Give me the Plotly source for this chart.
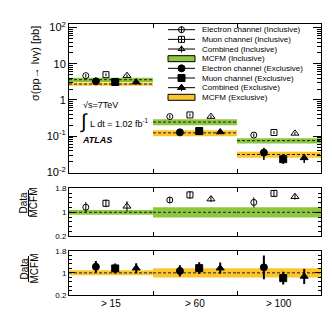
import plotly.graph_objects as go

# ---------------- data ----------------
CATS = ["> 15", "> 60", "> 100"]

# cross sections [pb]
E_INCL = [4.7, 0.347, 0.107]
MU_INCL = [5.0, 0.385, 0.126]
COMB_INCL = [4.7, 0.347, 0.119]
E_EXCL = [3.27, 0.127, 0.035]
MU_EXCL = [3.13, 0.138, 0.023]
COMB_EXCL = [3.1, 0.13, 0.025]
E_INCL_ERR = [0.5, 0.04, 0.012]
MU_INCL_ERR = [0.45, 0.035, 0.012]
COMB_INCL_ERR = [0.4, 0.03, 0.01]
E_EXCL_ERR = [0.35, 0.02, 0.013]
MU_EXCL_ERR = [0.3, 0.015, 0.006]
COMB_EXCL_ERR = [0.3, 0.015, 0.007]

MCFM_INCL = [3.63, 0.245, 0.075]
MCFM_EXCL = [2.75, 0.123, 0.031]
MCFM_INCL_REL = [0.13, 0.19, 0.17]
MCFM_EXCL_REL = [0.10, 0.19, 0.19]

# Data / MCFM ratios
R_E_INCL = [1.17, 1.41, 1.33]
R_MU_INCL = [1.30, 1.58, 1.63]
R_COMB_INCL = [1.20, 1.44, 1.52]
R_E_INCL_ERR = [0.17, 0.10, 0.17]
R_MU_INCL_ERR = [0.13, 0.13, 0.11]
R_COMB_INCL_ERR = [0.17, 0.10, 0.10]

R_E_EXCL = [1.22, 1.07, 1.20]
R_MU_EXCL = [1.16, 1.17, 0.81]
R_COMB_EXCL = [1.17, 1.17, 0.87]
R_E_EXCL_ERR = [0.21, 0.20, 0.43]
R_MU_EXCL_ERR = [0.18, 0.21, 0.23]
R_COMB_EXCL_ERR = [0.18, 0.20, 0.27]

R_BAND_INCL = [0.08, 0.17, 0.17]
R_BAND_EXCL = [0.09, 0.17, 0.17]

# ---------------- styling / layout helpers ----------------
FONT = "Liberation Sans, Arial, sans-serif"
GREEN = "rgb(141,198,63)"
ORANGE = "rgb(252,196,45)"
OFFS = {"e_in": -0.30, "e_ex": -0.18, "mu_in": -0.06, "mu_ex": 0.05,
        "co_in": 0.19, "co_ex": 0.30}

L, R, T, B = 61, 313, 16, 287
W, H = R - L, B - T


def px(x):
    return (x - L) / W


def py(y):
    return (B - y) / H


ncat = len(CATS)
centers = [i + 0.5 for i in range(ncat)]


def xs(key):
    return [c + OFFS[key] for c in centers]


def band_xy(vals, rel):
    x, y = [], []
    for i, (v, r) in enumerate(zip(vals, rel)):
        lo, hi = v * (1 - r), v * (1 + r)
        x += [i, i + 1, i + 1, i, i, None]
        y += [lo, lo, hi, hi, lo, None]
    return x, y


def line_xy(vals):
    x, y = [], []
    for i, v in enumerate(vals):
        x += [i, i + 1, None]
        y += [v, v, None]
    return x, y


fig = go.Figure()


def add_band(vals, rel, color, xa, ya):
    bx, by = band_xy(vals, rel)
    fig.add_trace(go.Scatter(x=bx, y=by, fill="toself", fillcolor=color,
                             line=dict(width=0), mode="lines", xaxis=xa, yaxis=ya,
                             hoverinfo="skip", showlegend=False))
    lx, ly = line_xy(vals)
    fig.add_trace(go.Scatter(x=lx, y=ly, mode="lines", xaxis=xa, yaxis=ya,
                             line=dict(color="#1e1e1e", width=1, dash="3px,2px"),
                             hoverinfo="skip", showlegend=False))


def add_pts(x, y, err, symbol, size, xa, ya, thick=1.0):
    fig.add_trace(go.Scatter(
        x=x, y=y, mode="markers", xaxis=xa, yaxis=ya, showlegend=False,
        marker=dict(symbol=symbol, size=size, color="black",
                    line=dict(color="black", width=1)),
        error_y=dict(type="data", array=err, visible=True, width=0,
                     thickness=thick, color="black")))


# ---- top panel
add_band(MCFM_INCL, MCFM_INCL_REL, GREEN, "x", "y")
add_band(MCFM_EXCL, MCFM_EXCL_REL, ORANGE, "x", "y")
add_pts(xs("e_in"), E_INCL, E_INCL_ERR, "circle-open", 6, "x", "y")
add_pts(xs("mu_in"), MU_INCL, MU_INCL_ERR, "square-open", 6, "x", "y")
add_pts(xs("co_in"), COMB_INCL, COMB_INCL_ERR, "triangle-up-open", 7, "x", "y")
add_pts(xs("e_ex"), E_EXCL, E_EXCL_ERR, "circle", 7, "x", "y", 1.5)
add_pts(xs("mu_ex"), MU_EXCL, MU_EXCL_ERR, "square", 7, "x", "y", 1.5)
add_pts(xs("co_ex"), COMB_EXCL, COMB_EXCL_ERR, "triangle-up", 7, "x", "y", 1.5)

# ---- middle panel (inclusive ratio)
add_band([1.0] * ncat, R_BAND_INCL, GREEN, "x2", "y2")
add_pts(xs("e_in"), R_E_INCL, R_E_INCL_ERR, "circle-open", 6, "x2", "y2")
add_pts(xs("mu_in"), R_MU_INCL, R_MU_INCL_ERR, "square-open", 6, "x2", "y2")
add_pts(xs("co_in"), R_COMB_INCL, R_COMB_INCL_ERR, "triangle-up-open", 7, "x2", "y2")

# ---- bottom panel (exclusive ratio)
add_band([1.0] * ncat, R_BAND_EXCL, ORANGE, "x3", "y3")
add_pts(xs("e_ex"), R_E_EXCL, R_E_EXCL_ERR, "circle", 7, "x3", "y3", 2)
add_pts(xs("mu_ex"), R_MU_EXCL, R_MU_EXCL_ERR, "square", 7, "x3", "y3", 2)
add_pts(xs("co_ex"), R_COMB_EXCL, R_COMB_EXCL_ERR, "triangle-up", 7, "x3", "y3", 2)

# ---- legend (drawn on a pixel-coordinate overlay axis)
LEG_LABELS = ["Electron channel (Inclusive)", "Muon channel (Inclusive)",
              "Combined (Inclusive)", "MCFM (Inclusive)",
              "Electron channel (Exclusive)", "Muon channel (Exclusive)",
              "Combined (Exclusive)", "MCFM (Exclusive)"]
LEG_SYMS = ["circle-open", "square-open", "triangle-up-open", None,
            "circle", "square", "triangle-up", None]
LEG_BOX = [None, None, None, GREEN, None, None, None, ORANGE]
leg_y0, leg_dy = 21.7, 9.66
lx0, lx1, lmk, ltx = 160, 187, 173.5, 192
shapes = []
annotations = []
for i, (lab, sym, box) in enumerate(zip(LEG_LABELS, LEG_SYMS, LEG_BOX)):
    yy = leg_y0 + i * leg_dy
    if sym is not None:
        fig.add_trace(go.Scatter(x=[lx0, lx1], y=[yy, yy], mode="lines",
                                 line=dict(color="black", width=1),
                                 xaxis="x4", yaxis="y4", showlegend=False,
                                 hoverinfo="skip"))
        fig.add_trace(go.Scatter(
            x=[lmk], y=[yy], mode="markers", xaxis="x4", yaxis="y4",
            showlegend=False, hoverinfo="skip",
            marker=dict(symbol=sym, size=6 if "open" in sym else 7, color="black",
                        line=dict(color="black", width=1)),
            error_y=dict(type="constant", value=3.5, width=0, thickness=1,
                         color="black")))
    else:
        shapes.append(dict(type="rect", xref="x4", yref="y4", x0=lx0, x1=lx1,
                           y0=yy - 3, y1=yy + 3, fillcolor=box,
                           line=dict(color="black", width=1)))
    annotations.append(dict(xref="x4", yref="y4", x=ltx, y=yy, text=lab,
                            showarrow=False, xanchor="left", yanchor="middle",
                            font=dict(family=FONT, size=8, color="black")))


# ---- text labels
def ann(x, y, text, size, **kw):
    d = dict(xref="x4", yref="y4", x=x, y=y, text=text, showarrow=False,
             font=dict(family=FONT, size=size, color="black"))
    d.update(kw)
    annotations.append(d)


ann(73, 97, "√s=7TeV", 9, xanchor="left", yanchor="middle")
ann(76, 113, "∫", 20, xanchor="center", yanchor="middle")
ann(80, 115, "L dt = 1.02 fb<sup>-1</sup>", 9, xanchor="left", yanchor="middle")
ann(72, 132, "<b><i>ATLAS</i></b>", 9, xanchor="left", yanchor="middle")
ann(313, 311, "E<sub>T</sub><sup>γ</sup> [GeV]", 11, xanchor="right",
    yanchor="middle")

# category labels under the bottom panel
for c, lab in zip(centers, CATS):
    annotations.append(dict(xref="x3", yref="paper", x=c, y=py(295.5), text=lab,
                            showarrow=False, xanchor="center", yanchor="middle",
                            font=dict(family=FONT, size=10, color="black")))


def paper_ann(x, y, text, size, angle=0):
    annotations.append(dict(xref="paper", yref="paper", x=px(x), y=py(y), text=text,
                            showarrow=False, textangle=angle, xanchor="center",
                            yanchor="middle",
                            font=dict(family=FONT, size=size, color="black")))


paper_ann(27, 56, "σ(pp→ lνγ) [pb]", 11, -90)
for yc in (195, 261):
    paper_ann(15.5, yc, "Data", 10, -90)
    paper_ann(25.5, yc, "MCFM", 10, -90)
    shapes.append(dict(type="line", xref="paper", yref="paper", x0=px(20.5),
                       x1=px(20.5), y0=py(yc - 13), y1=py(yc + 13),
                       line=dict(color="black", width=1)))

# ---------------- axes ----------------
xcommon = dict(range=[0, ncat], showline=True, linecolor="black", linewidth=1,
               mirror="ticks", ticks="", tickvals=centers, ticktext=CATS,
               showticklabels=False,
               showgrid=False, zeroline=False, fixedrange=True,
               minor=dict(tickvals=list(range(1, ncat)), ticks="inside",
                          ticklen=4, tickcolor="black", showgrid=False))
minor_log = [k * 10 ** e for e in range(-2, 2) for k in range(2, 10)]
yratio = dict(range=[0.2, 1.8], showline=True, linecolor="black", linewidth=1,
              mirror="ticks", ticks="inside", ticklen=6, tickcolor="black",
              tickvals=[0.2, 1, 1.8], ticktext=["0.2", "1", "1.8"],
              showgrid=False, zeroline=False, fixedrange=True,
              tickfont=dict(family=FONT, size=8, color="black"),
              minor=dict(tickvals=[0.36, 0.52, 0.68, 0.84, 1.16, 1.32, 1.48, 1.64],
                         ticks="inside", ticklen=3, tickcolor="black",
                         showgrid=False))

fig.update_layout(
    width=332, height=318,
    margin=dict(l=L, r=332 - R, t=T, b=318 - B),
    paper_bgcolor="white", plot_bgcolor="rgba(0,0,0,0)",
    showlegend=False,
    xaxis=dict(xcommon, anchor="y", domain=[0, 1]),
    yaxis=dict(type="log", domain=[py(165), 1], range=[-2.02, 2.1],
               showline=True, linecolor="black", linewidth=1, mirror="ticks",
               ticks="inside", ticklen=8, tickcolor="black",
               tickvals=[0.01, 0.1, 1, 10, 100],
               ticktext=["10<sup>-2</sup>", "10<sup>-1</sup>", "1", "10",
                         "10<sup>2</sup>"],
               showgrid=False, zeroline=False, fixedrange=True,
               tickfont=dict(family=FONT, size=11, color="black"),
               minor=dict(tickvals=minor_log, ticks="inside", ticklen=4,
                          tickcolor="black", showgrid=False)),
    xaxis2=dict(xcommon, anchor="y2", domain=[0, 1]),
    yaxis2=dict(yratio, domain=[py(228.3), py(180.3)]),
    xaxis3=dict(xcommon, anchor="y3", domain=[0, 1]),
    yaxis3=dict(yratio, domain=[0, py(242.7)]),
    xaxis4=dict(domain=[0, 1], range=[L, R], visible=False, anchor="y4",
                fixedrange=True),
    yaxis4=dict(domain=[0, 1], range=[B, T], visible=False, anchor="x4",
                fixedrange=True),
    shapes=shapes,
    annotations=annotations,
)

fig.write_html("out.html")
